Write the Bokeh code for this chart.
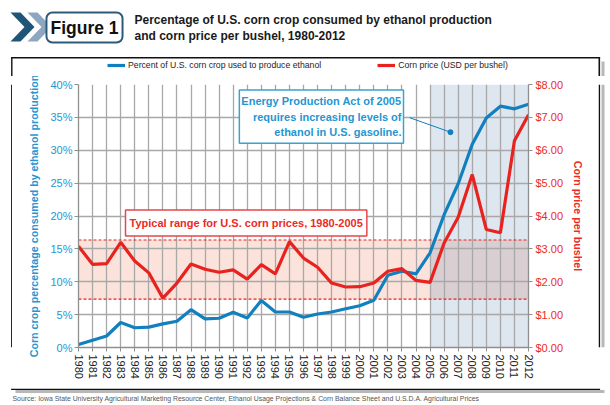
from bokeh.plotting import figure
from bokeh.layouts import column, row
from bokeh.models import (LinearAxis, Range1d, FixedTicker, PrintfTickFormatter, Label,
                          Arrow, Legend, LegendItem)
from bokeh.embed import file_html
from bokeh.resources import INLINE

# ---------------- data ----------------
YEARS = list(range(1980, 2013))
PCT_ETHANOL = [0.45, 1.1, 1.75, 3.8, 3.0, 3.1, 3.6, 4.0, 5.75, 4.35, 4.45, 5.35, 4.5, 7.15,
               5.4, 5.4, 4.6, 5.1, 5.4, 5.9, 6.35, 7.2, 11.0, 11.6, 11.2, 14.4, 20.2, 24.9,
               30.9, 34.9, 36.7, 36.3, 37.0]
CORN_PRICE = [3.08, 2.53, 2.55, 3.20, 2.63, 2.27, 1.50, 1.96, 2.54, 2.38, 2.29, 2.36, 2.08,
              2.52, 2.24, 3.22, 2.72, 2.44, 1.96, 1.84, 1.85, 1.96, 2.32, 2.40, 2.04, 1.98,
              3.18, 3.96, 5.26, 3.59, 3.49, 6.29, 7.08]
PCT_TICKS = list(range(0, 45, 5))
PRICE_TICKS = list(range(0, 9))
BAND_LO, BAND_HI = 1.47, 3.27          # typical price range 1980-2005 (USD)
ACT_YEAR = 2005
ANNOT_POINT = (2006.45, 32.75)          # dot of the callout (year, percent)
ANNOT_START = (2003.55, 34.95)

BLUE = "#127fbf"
RED = "#e8231f"
BLUE_TXT = "#2596d1"
RED_TXT = "#ec2a26"
FONT = "Liberation Sans"
INK = "#111111"
SHADOW = "#b8b8b8"
NAN = float("nan")

W = 610
HEAD_H, BODY_H, FOOT_H = 76, 312, 17
STRIP_L, STRIP_R = 12, 12
FL, FR, FT, FB = 78, 528, 84, 347        # plot frame edges on the page
BOX_L, BOX_R, BOX_T = 10.6, 599.6, 57     # outer frame


def sx(cx):
    return cx - FL


def sy(cy):
    return FB - cy


def deco(w, h):
    f = figure(width=w, height=h, output_backend="svg", toolbar_location=None, title=None,
               x_range=Range1d(0, w), y_range=Range1d(h, 0), x_axis_type=None,
               y_axis_type=None, min_border=0)
    f.outline_line_color = None
    f.background_fill_color = "white"
    f.border_fill_color = "white"
    return f


# ---------------- header (title + legend row) ----------------
head = deco(W, HEAD_H)


def chevron(x0):
    return [x0, x0 + 10, x0 + 24, x0 + 10, x0, x0 + 14], [12, 12, 26.5, 41, 41, 26.5]


cx1, cy1 = chevron(27)
cx2, cy2 = chevron(10)
head.patches(xs=[cx1, cx2], ys=[cy1, cy2], fill_color=["#8ea7c1", "#1f5576"], line_color=None)
head.add_layout(Label(x=84, y=27, text="Figure 1", text_align="center", text_baseline="middle",
                      text_font=FONT, text_font_style="bold", text_font_size="17.5px",
                      text_color=INK, background_fill_color="white",
                      border_line_color="#2d5a7b", border_line_width=2, border_radius=6,
                      padding=(4, 5)))
head.add_layout(Label(x=134, y=19, text="Percentage of U.S. corn crop consumed by ethanol production",
                      text_baseline="middle", text_font=FONT, text_font_style="bold",
                      text_font_size="12px", text_color="#1a1a1a"))
head.add_layout(Label(x=134, y=35, text="and corn price per bushel, 1980-2012",
                      text_baseline="middle", text_font=FONT, text_font_style="bold",
                      text_font_size="12px", text_color="#1a1a1a"))
# outer frame: top edge, upper parts of the sides, shadow
head.quad(left=[BOX_R + 1.4], right=[BOX_R + 4.4], top=[BOX_T + 4], bottom=[HEAD_H],
          fill_color=SHADOW, line_color=None)
head.quad(left=[BOX_L, BOX_L, BOX_R - 1.6], right=[BOX_R, BOX_L + 1.4, BOX_R],
          top=[BOX_T - 0.6, BOX_T, BOX_T], bottom=[BOX_T + 1, HEAD_H, HEAD_H],
          fill_color=INK, line_color=None)
# legend: proxy renderers (no visible data) carry the series' styles
lg_blue = head.line(x=[NAN, NAN], y=[NAN, NAN], line_color=BLUE, line_width=3.2)
lg_red = head.line(x=[NAN, NAN], y=[NAN, NAN], line_color=RED, line_width=3.2)
legend = Legend(items=[LegendItem(label="Percent of U.S. corn crop used to produce ethanol",
                                  renderers=[lg_blue]),
                       LegendItem(label="Corn price (USD per bushel)", renderers=[lg_red])],
                orientation="horizontal", location=(107, HEAD_H - 71), padding=0, margin=0,
                spacing=56, glyph_width=18, glyph_height=12, label_height=12,
                label_standoff=3, label_text_font=FONT, label_text_font_size="8.7px",
                label_text_color="#1e1e1e", background_fill_alpha=0, border_line_color=None)
head.add_layout(legend, "center")

# ---------------- side strips (outer frame) ----------------
lstrip = deco(STRIP_L, BODY_H)
lstrip.quad(left=[BOX_L], right=[BOX_L + 1.4], top=[0], bottom=[BODY_H], fill_color=INK,
            line_color=None)
rstrip = deco(STRIP_R, BODY_H)
rstrip.quad(left=[3], right=[6], top=[0], bottom=[BODY_H], fill_color=SHADOW, line_color=None)
rstrip.quad(left=[0], right=[1.6], top=[0], bottom=[BODY_H], fill_color=INK, line_color=None)

# ---------------- footer ----------------
foot = deco(W, FOOT_H)
foot.quad(left=[15], right=[604], top=[1.6], bottom=[4.5], fill_color=SHADOW, line_color=None)
foot.quad(left=[BOX_L], right=[BOX_R], top=[0], bottom=[1.6], fill_color=INK, line_color=None)
foot.add_layout(Label(x=12, y=9.5,
                      text="Source: Iowa State University Agricultural Marketing Resource Center, "
                           "Ethanol Usage Projections & Corn Balance Sheet and U.S.D.A. Agricultural Prices",
                      text_baseline="middle", text_font=FONT, text_font_size="6.9px",
                      text_color="#555555"))

# ---------------- chart body ----------------
body_w = W - STRIP_L - STRIP_R
p = figure(width=body_w, height=BODY_H, output_backend="svg", toolbar_location=None, title=None,
           x_range=Range1d(YEARS[0], YEARS[-1]), y_range=Range1d(0, 40),
           min_border_left=FL - STRIP_L, min_border_right=(W - STRIP_R) - FR,
           min_border_top=FT - HEAD_H, min_border_bottom=(HEAD_H + BODY_H) - FB)
p.extra_y_ranges = {"price": Range1d(0, 8)}
p.outline_line_color = None
p.background_fill_color = "white"
p.border_fill_color = "white"

# shaded areas
p.quad(left=[YEARS[0]], right=[ACT_YEAR], bottom=[BAND_LO], top=[BAND_HI],
       y_range_name="price", fill_color="#fbe3db", line_color=None, level="image")
p.quad(left=[ACT_YEAR], right=[YEARS[-1]], bottom=[PRICE_TICKS[0]], top=[PRICE_TICKS[-1]],
       y_range_name="price", fill_color="#dee6ef", line_color=None, level="image")
p.quad(left=[ACT_YEAR], right=[YEARS[-1]], bottom=[BAND_LO], top=[BAND_HI],
       y_range_name="price", fill_color="#d9ced1", line_color=None, level="image")

# grid
p.xgrid.ticker = FixedTicker(ticks=YEARS)
p.ygrid.ticker = FixedTicker(ticks=PCT_TICKS)
for g in (p.xgrid, p.ygrid):
    g.grid_line_color = "#a8a8a8"
    g.grid_line_width = 1.3

# dashed band limits
p.segment(x0=[YEARS[0]] * 2, x1=[YEARS[-1]] * 2, y0=[BAND_LO, BAND_HI], y1=[BAND_LO, BAND_HI],
          y_range_name="price", line_color=RED, line_width=1.2, line_dash="3 2")

# data
r_blue = p.line(YEARS, PCT_ETHANOL, line_color=BLUE, line_width=3.2)
r_red = p.line(YEARS, CORN_PRICE, y_range_name="price", line_color=RED, line_width=3.2)

# axes
xa = p.xaxis[0]
xa.ticker = FixedTicker(ticks=YEARS)
xa.formatter = PrintfTickFormatter(format="%d")
xa.major_label_orientation = "vertical"
xa.major_label_text_font = FONT
xa.major_label_text_font_size = "11px"
xa.major_label_text_color = "#222222"
xa.major_label_standoff = 3
ya = p.yaxis[0]
ya.ticker = FixedTicker(ticks=PCT_TICKS)
ya.formatter = PrintfTickFormatter(format="%d%%")
ya.major_label_text_font = FONT
ya.major_label_text_font_size = "11px"
ya.major_label_text_color = BLUE_TXT
ya.major_label_standoff = 2
ya.axis_label = "Corn crop percentage consumed by ethanol production"
ya.axis_label_text_font = FONT
ya.axis_label_text_font_style = "bold"
ya.axis_label_text_font_size = "10.7px"
ya.axis_label_text_color = BLUE_TXT
ya.axis_label_standoff = 7

ra = LinearAxis(y_range_name="price", ticker=FixedTicker(ticks=PRICE_TICKS),
                formatter=PrintfTickFormatter(format="$%.2f"))
ra.major_label_text_font = FONT
ra.major_label_text_font_size = "11px"
ra.major_label_text_color = RED_TXT
ra.major_label_standoff = 3
ra.axis_label = "Corn price per bushel"
ra.axis_label_text_font = FONT
ra.axis_label_text_font_style = "bold"
ra.axis_label_text_font_size = "10.7px"
ra.axis_label_text_color = RED_TXT
ra.axis_label_standoff = 6
p.add_layout(ra, "right")

for ax in (xa, ya, ra):
    ax.axis_line_color = "#8f8f8f"
    ax.axis_line_width = 1.3
    ax.major_tick_line_color = "#8f8f8f"
    ax.major_tick_out = 4
    ax.major_tick_in = 0
    ax.minor_tick_line_color = None

# callout boxes
p.add_layout(Label(x=sx(403), y=sy(89.5), x_units="screen", y_units="screen",
                   text="Energy Production Act of 2005\nrequires increasing levels of\nethanol in U.S. gasoline.",
                   text_align="right", text_baseline="top", text_font=FONT,
                   text_font_style="bold", text_font_size="11px", text_color=BLUE_TXT,
                   text_line_height=1.3, background_fill_color="white",
                   border_line_color="#3aa2d2", border_line_width=1.5, padding=(2, 5)))
p.add_layout(Arrow(end=None, x_start=ANNOT_START[0], y_start=ANNOT_START[1],
                   x_end=ANNOT_POINT[0], y_end=ANNOT_POINT[1], line_color=BLUE, line_width=1))
p.scatter(x=[ANNOT_POINT[0]], y=[ANNOT_POINT[1]], size=5, color=BLUE)

p.add_layout(Label(x=sx(125), y=sy(222.5), x_units="screen", y_units="screen",
                   text="Typical range for U.S. corn prices, 1980-2005",
                   text_align="left", text_baseline="middle", text_font=FONT,
                   text_font_style="bold", text_font_size="11px", text_color=RED_TXT,
                   background_fill_color="white", border_line_color="#e8474a",
                   border_line_width=1.5, padding=(4, 7)))

layout = column(head, row(lstrip, p, rstrip), foot)
open("out.html", "w").write(file_html(layout, INLINE))
